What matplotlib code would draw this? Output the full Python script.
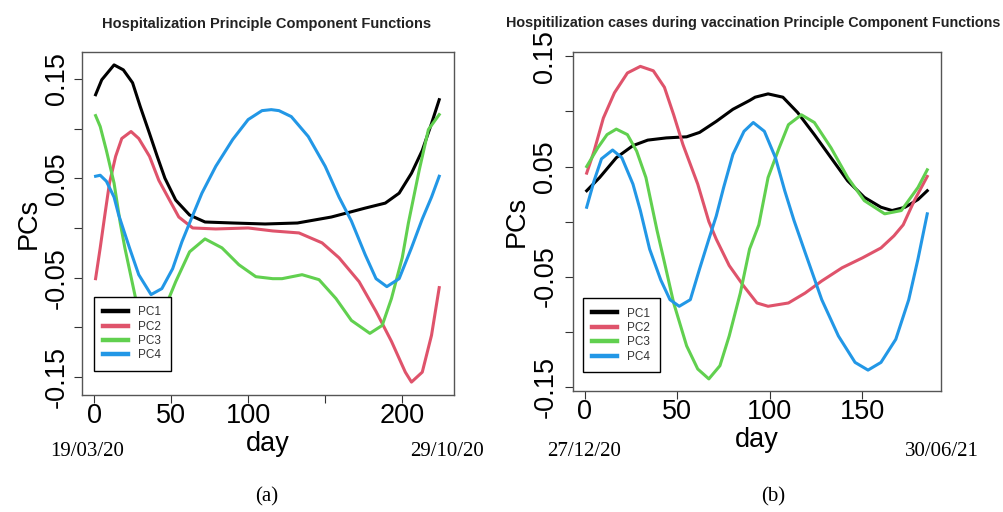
import matplotlib
matplotlib.use("Agg")
import matplotlib.pyplot as plt

# ── data ─────────────────────────────────────────────────────────────────────

# (a) 19/03/20 - 29/10/20
a_pc1_day = [1, 5, 13, 19, 25, 30, 36, 41, 46, 53, 62, 72, 90, 111, 132, 154, 176,
             189, 198, 206, 213, 219, 224]
a_pc1 = [0.134, 0.149, 0.164, 0.159, 0.146, 0.122, 0.095, 0.072, 0.050, 0.028,
         0.013, 0.006, 0.005, 0.004, 0.005, 0.011, 0.020, 0.025, 0.035, 0.055,
         0.078, 0.105, 0.129]

a_pc2_day = [1, 4, 7, 10, 14, 18, 24, 29, 36, 42, 49, 55, 64, 79, 100, 116, 133,
             148, 159, 172, 183, 193, 202, 206, 213, 219, 224]
a_pc2 = [-0.051, -0.020, 0.013, 0.045, 0.072, 0.090, 0.097, 0.090, 0.072, 0.048,
         0.028, 0.011, 0.000, -0.001, 0.000, -0.003, -0.005, -0.015, -0.030,
         -0.054, -0.084, -0.114, -0.145, -0.155, -0.145, -0.108, -0.060]

a_pc3_day = [1, 4, 8, 13, 17, 20, 27, 37, 44, 53, 62, 72, 83, 94, 105, 116, 122,
             135, 146, 157, 167, 179, 187, 193, 200, 204, 211, 217, 224]
a_pc3 = [0.113, 0.102, 0.078, 0.045, 0.005, -0.020, -0.071, -0.104, -0.088,
         -0.054, -0.024, -0.011, -0.020, -0.037, -0.049, -0.051, -0.051, -0.047,
         -0.052, -0.071, -0.093, -0.106, -0.098, -0.071, -0.030, 0.005, 0.058,
         0.099, 0.114]

a_pc4_day = [1, 4, 8, 13, 16, 23, 29, 37, 44, 51, 57, 62, 70, 79, 90, 100, 109,
             115, 120, 128, 139, 150, 159, 167, 176, 183, 190, 198, 206, 213, 219, 224]
a_pc4 = [0.052, 0.053, 0.047, 0.031, 0.013, -0.020, -0.047, -0.067, -0.061,
         -0.041, -0.014, 0.005, 0.035, 0.062, 0.089, 0.109, 0.118, 0.119, 0.118,
         0.112, 0.092, 0.062, 0.031, 0.007, -0.027, -0.051, -0.059, -0.051,
         -0.020, 0.009, 0.031, 0.052]

# (b) 27/12/20 - 30/06/21
b_pc1_day = [1, 8, 17, 26, 34, 44, 55, 62, 71, 80, 89, 92, 99, 107, 115, 124, 133,
             142, 151, 160, 166, 173, 180, 185]
b_pc1 = [0.028, 0.040, 0.058, 0.069, 0.074, 0.076, 0.077, 0.081, 0.091, 0.102,
         0.110, 0.113, 0.116, 0.113, 0.099, 0.079, 0.058, 0.037, 0.022, 0.013,
         0.010, 0.013, 0.020, 0.028]

b_pc2_day = [1, 5, 10, 16, 23, 30, 37, 43, 48, 53, 61, 67, 71, 78, 86, 93, 99, 110,
             119, 128, 139, 150, 160, 167, 172, 178, 185]
b_pc2 = [0.044, 0.064, 0.094, 0.117, 0.135, 0.141, 0.137, 0.122, 0.097, 0.070,
         0.034, 0.000, -0.016, -0.040, -0.059, -0.074, -0.077, -0.074, -0.065,
         -0.054, -0.042, -0.033, -0.024, -0.013, -0.003, 0.019, 0.041]

b_pc3_day = [1, 7, 12, 17, 23, 28, 33, 36, 39, 43, 48, 55, 61, 67, 73, 78, 84, 89,
             94, 99, 105, 110, 117, 124, 133, 142, 151, 162, 171, 180, 185]
b_pc3 = [0.050, 0.067, 0.079, 0.084, 0.079, 0.064, 0.040, 0.016, -0.008, -0.037,
         -0.074, -0.113, -0.134, -0.143, -0.131, -0.104, -0.065, -0.025, -0.003,
         0.040, 0.067, 0.088, 0.097, 0.090, 0.067, 0.040, 0.019, 0.007, 0.010,
         0.031, 0.047]

b_pc4_day = [1, 5, 9, 15, 20, 26, 30, 35, 41, 46, 51, 57, 62, 67, 71, 75, 80, 86,
             91, 97, 103, 108, 113, 119, 128, 137, 146, 153, 160, 168, 175, 180, 185]
b_pc4 = [0.013, 0.037, 0.057, 0.065, 0.058, 0.034, 0.010, -0.025, -0.053, -0.071,
         -0.077, -0.071, -0.043, -0.016, 0.005, 0.031, 0.061, 0.082, 0.090, 0.082,
         0.058, 0.028, 0.001, -0.028, -0.071, -0.104, -0.128, -0.135, -0.128,
         -0.107, -0.071, -0.034, 0.007]

series_labels = ['PC1', 'PC2', 'PC3', 'PC4']
COLORS = ['#000000', '#DF536B', '#61D04F', '#2297E6']

yticks = [-0.15, -0.10, -0.05, 0.00, 0.05, 0.10, 0.15]
ytick_labels = ['-0.15', '', '-0.05', '', '0.05', '', '0.15']

a_xticks = [0, 50, 100, 150, 200]
a_xtick_labels = ['0', '50', '100', '', '200']
b_xticks = [0, 50, 100, 150]
b_xtick_labels = ['0', '50', '100', '150']


# ── figure ───────────────────────────────────────────────────────────────────

plt.rcParams['font.family'] = ['Liberation Sans', 'DejaVu Sans']

fig = plt.figure(figsize=(10.04, 5.12), dpi=100)
ax_a = fig.add_axes([0.0817, 0.2285, 0.3705, 0.670])
ax_b = fig.add_axes([0.5707, 0.2363, 0.3665, 0.662])


def style_axes(ax, xticks, xlabels, xlim, ylim, ypad):
    ax.set_xlim(*xlim)
    ax.set_ylim(*ylim)
    ax.set_xticks(xticks)
    ax.set_xticklabels(xlabels)
    ax.set_yticks(yticks)
    ax.set_yticklabels(ytick_labels, rotation=90, va='center')
    ax.tick_params(axis='both', direction='out', length=5.5, width=0.8,
                   color='#333333', labelsize=19.5)
    ax.tick_params(axis='x', pad=0)
    ax.tick_params(axis='y', pad=ypad)
    for spine in ax.spines.values():
        spine.set_edgecolor('#555555')
        spine.set_linewidth(1.0)
    ax.set_xlabel('day', fontsize=19.5, labelpad=1.5)
    ax.set_ylabel('PCs', fontsize=19.5, labelpad=2)


panels = [
    (ax_a, [(a_pc1_day, a_pc1), (a_pc2_day, a_pc2), (a_pc3_day, a_pc3), (a_pc4_day, a_pc4)]),
    (ax_b, [(b_pc1_day, b_pc1), (b_pc2_day, b_pc2), (b_pc3_day, b_pc3), (b_pc4_day, b_pc4)]),
]

for ax, curves in panels:
    for (d, v), c, lab in zip(curves, COLORS, series_labels):
        ax.plot(d, v, color=c, lw=2.2, label=lab, solid_joinstyle='round')

style_axes(ax_a, a_xticks, a_xtick_labels, (-7.8, 233.6), (-0.168, 0.177), 3)
style_axes(ax_b, b_xticks, b_xtick_labels, (-6.4, 192.4), (-0.154, 0.154), 5)

for ax, anchor in [(ax_a, (0.032, 0.286)), (ax_b, (0.027, 0.274))]:
    leg = ax.legend(loc='upper left', bbox_to_anchor=anchor, borderaxespad=0,
                    fontsize=8.5, fancybox=False, edgecolor='black',
                    handlelength=2.1, handletextpad=0.85, labelspacing=0.2,
                    borderpad=0.8, framealpha=1)
    leg.get_frame().set_linewidth(1.0)
    for line in leg.get_lines():
        line.set_linewidth(3.2)
    for t in leg.get_texts():
        t.set_color('#333333')

# titles
fig.text(267 / 1004, 1 - 24 / 512, 'Hospitalization Principle Component Functions',
         ha='center', va='center', fontsize=10.5, fontweight='bold', color='#222222')
fig.text(753 / 1004, 1 - 23 / 512,
         'Hospitilization cases during vaccination Principle Component Functions',
         ha='center', va='center', fontsize=10.4, fontweight='bold', color='#222222')

# date annotations and panel letters
serif = ['Liberation Serif', 'DejaVu Serif']
for x, s in [(87, '19/03/20'), (447, '29/10/20'), (584, '27/12/20'), (942, '30/06/21')]:
    fig.text(x / 1004, 1 - 452 / 512, s, ha='center', va='center',
             fontsize=15, family=serif)
for x, s in [(267, '(a)'), (773, '(b)')]:
    fig.text(x / 1004, 1 - 497 / 512, s, ha='center', va='center',
             fontsize=15, family=serif)

plt.savefig('out.png', dpi=100)
plt.close()
